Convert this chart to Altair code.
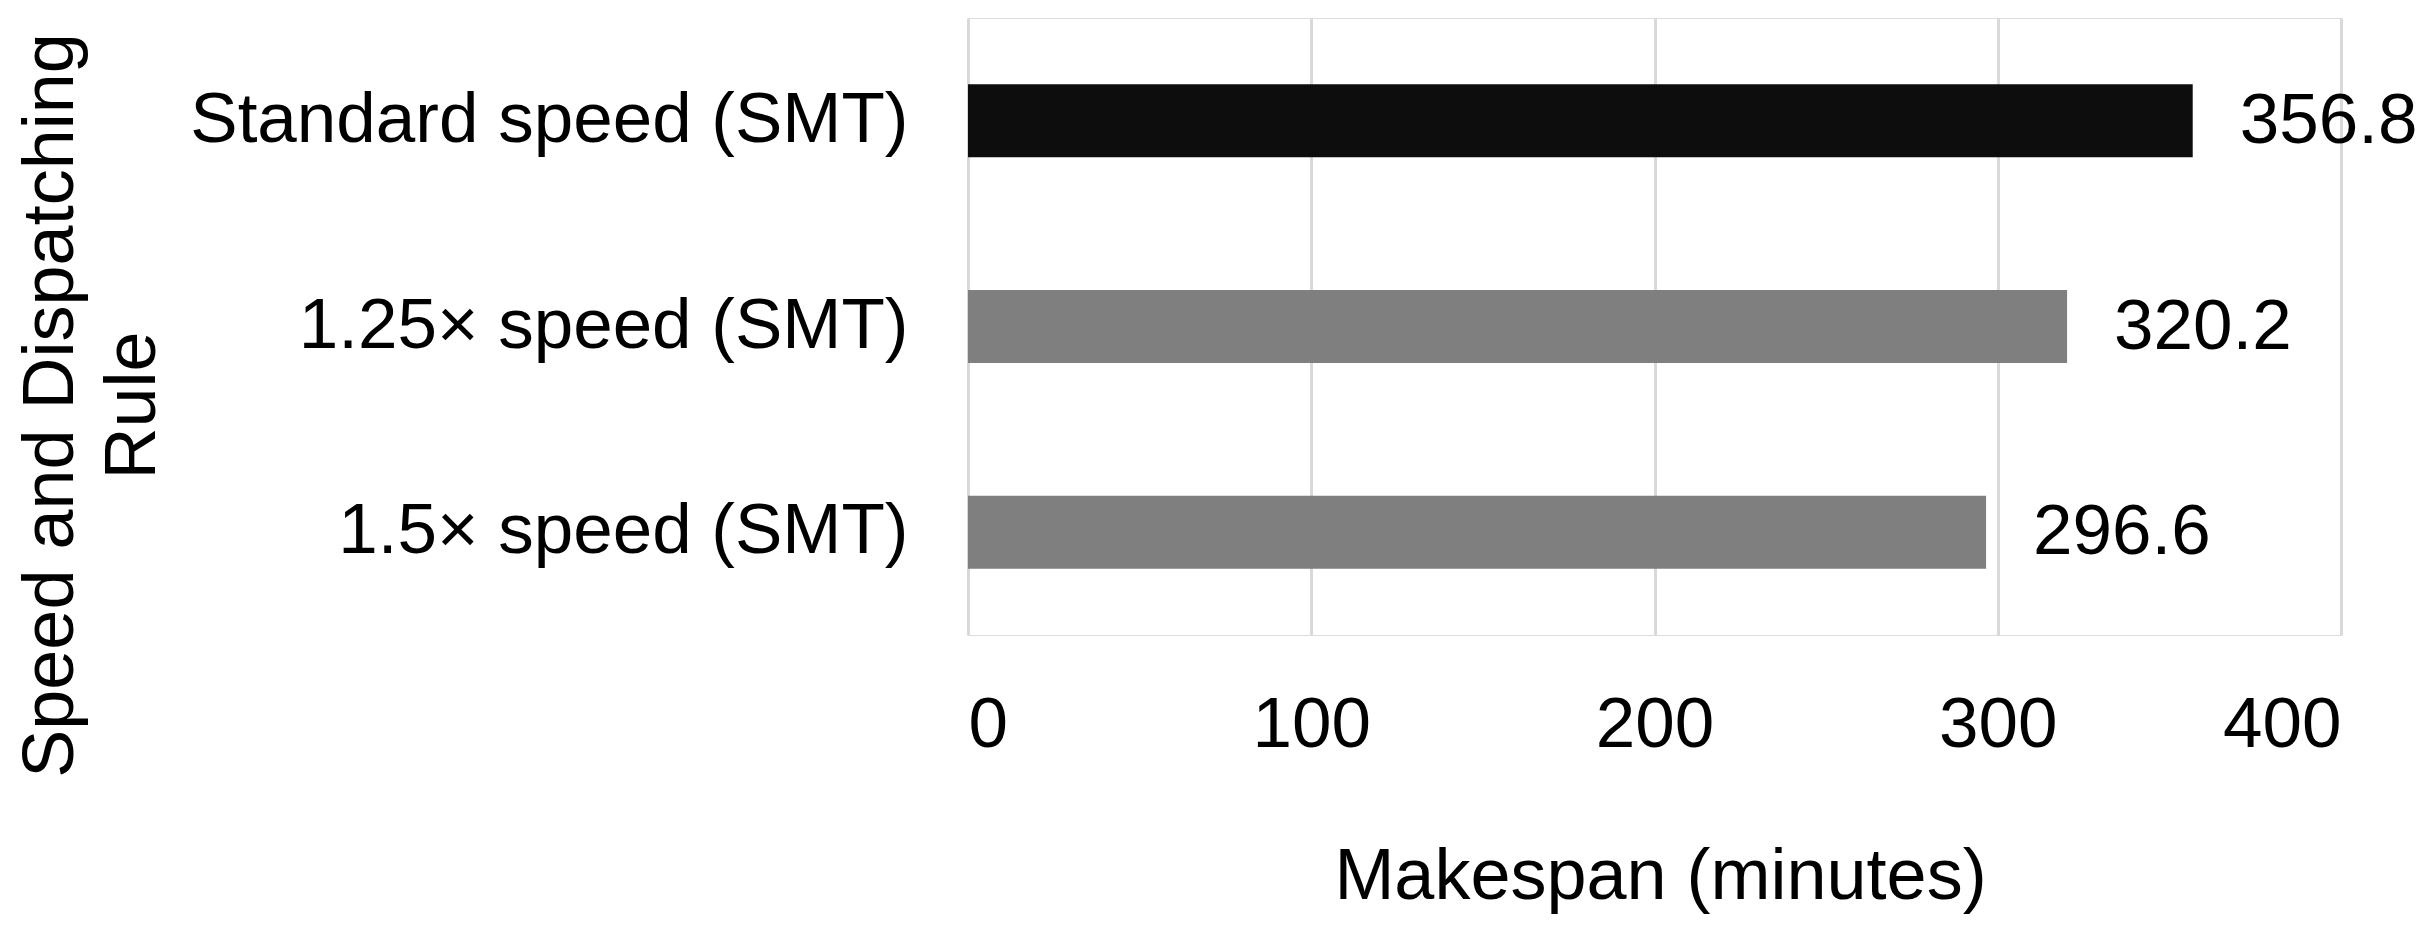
import altair as alt
import pandas as pd

categories = ["Standard speed (SMT)", "1.25\u00d7 speed (SMT)", "1.5\u00d7 speed (SMT)"]
values = [356.8, 320.2, 296.6]
labels = ["356.8", "320.2", "296.6"]
bar_colors = ["#0d0d0d", "#7f7f7f", "#7f7f7f"]
x_ticks = [0, 100, 200, 300, 400]

df = pd.DataFrame({"rule": categories, "makespan": values, "label": labels, "color": bar_colors})

FONT = "Liberation Sans"

y_enc = alt.Y(
    "rule:N",
    sort=categories,
    scale=alt.Scale(paddingInner=0.645, paddingOuter=0.3225),
    axis=alt.Axis(
        title=["Speed and Dispatching", "Rule"],
        titleFont=FONT,
        titleFontSize=72,
        titleFontWeight="normal",
        titleColor="#000000",
        titleAngle=270,
        titleAlign="center",
        titleBaseline="alphabetic",
        titleLineHeight=82,
        titleX=-896,
        titleY=387,
        labelFont=FONT,
        labelFontSize=71,
        labelColor="#000000",
        labelPadding=60,
        labelLimit=1000,
        ticks=False,
        domain=False,
        grid=False,
    ),
)

x_enc = alt.X(
    "makespan:Q",
    scale=alt.Scale(domain=[0, 400], nice=False),
    axis=alt.Axis(
        title="Makespan (minutes)",
        titleFont=FONT,
        titleFontSize=72,
        titleFontWeight="normal",
        titleColor="#000000",
        titleAlign="center",
        titleBaseline="alphabetic",
        titleX=692,
        titleY=263,
        values=x_ticks,
        labelFont=FONT,
        labelFontSize=71,
        labelColor="#000000",
        labelPadding=55,
        ticks=False,
        domain=False,
        grid=True,
        gridColor="#d9d9d9",
        gridWidth=3,
    ),
)

bars = alt.Chart(df).mark_bar().encode(
    y=y_enc,
    x=x_enc,
    color=alt.Color("color:N", scale=None, legend=None),
)

text = alt.Chart(df).mark_text(
    align="left", baseline="middle", dx=47, dy=1, font=FONT, fontSize=71, color="#000000"
).encode(
    y=alt.Y("rule:N", sort=categories),
    x=alt.X("makespan:Q"),
    text="label:N",
)

chart = (
    alt.layer(bars, text)
    .properties(
        width=1373,
        height=617,
        autosize=alt.AutoSizeParams(type="none"),
        padding={"left": 960, "top": 10, "right": 79, "bottom": 285},
    )
    .configure_view(stroke="transparent", strokeWidth=0)
    .configure(background="#ffffff")
)

chart.save("out.html", embed_options={"renderer": "svg", "actions": False})
